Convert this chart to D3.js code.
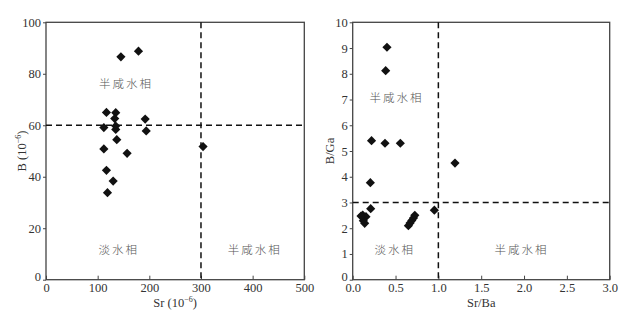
<!DOCTYPE html>
<html lang="zh">
<head>
<meta charset="UTF-8">
<title>Sr-B, Sr/Ba-B/Ga</title>
<script src="https://d3js.org/d3.v7.min.js"></script>
<style>
  body { margin: 0; background: #fff; }
  .zh { font-family: "Noto Sans CJK SC", sans-serif; font-weight: 300; letter-spacing: 2px; }
</style>
</head>
<body>
<svg id="chart" width="632" height="314"></svg>
<script>
// left panel: Sr (10^-6) vs B (10^-6)
const srValues = [145, 179, 117, 135, 133, 192, 112, 135, 135, 194, 137, 112, 157, 304, 117, 130, 119];
const bValues  = [86.6, 88.8, 65.0, 64.9, 62.6, 62.4, 59.1, 59.7, 58.4, 57.8, 54.4, 50.8, 49.1, 51.7, 42.5, 38.3, 33.8];
const leftXTicks = [0, 100, 200, 300, 400, 500];
const leftYTicks = [0, 20, 40, 60, 80, 100];
const leftLabels = [
  { text: "半咸水相", x: 153, y: 76.5 },
  { text: "淡水相", x: 139, y: 12 },
  { text: "半咸水相", x: 402, y: 12 }
];

// right panel: Sr/Ba vs B/Ga
const srBaValues = [0.40, 0.385, 0.22, 0.377, 0.556, 1.194, 0.206, 0.21, 0.953,
                    0.117, 0.155, 0.124, 0.14, 0.097,
                    0.65, 0.67, 0.69, 0.71, 0.725];
const bGaValues  = [9.03, 8.12, 5.40, 5.30, 5.30, 4.53, 3.77, 2.76, 2.70,
                    2.51, 2.45, 2.29, 2.19, 2.47,
                    2.10, 2.20, 2.30, 2.40, 2.50];
const rightXTicks = [0, 0.5, 1.0, 1.5, 2.0, 2.5, 3.0];
const rightYTicks = [0, 1, 2, 3, 4, 5, 6, 7, 8, 9, 10];
const rightLabels = [
  { text: "半咸水相", x: 0.50, y: 7.1 },
  { text: "淡水相", x: 0.48, y: 1.2 },
  { text: "半咸水相", x: 1.96, y: 1.2 }
];

const svg = d3.select("#chart");
const plotTop = 22.3, plotBottom = 279.7;
const serif = "Liberation Serif";

function panel(opt) {
  const g = svg.append("g");
  const x = d3.scaleLinear().domain(opt.xDomain).range([opt.left, opt.right]);
  const y = d3.scaleLinear().domain(opt.yDomain).range([plotBottom, plotTop]);

  // x axis, ticks pointing inward
  const xa = g.append("g")
    .attr("transform", `translate(0,${plotBottom})`)
    .call(d3.axisBottom(x).tickValues(opt.xTicks).tickSize(-4).tickPadding(3.5).tickFormat(opt.xFormat));
  // y axis, ticks pointing outward
  const ya = g.append("g")
    .attr("transform", `translate(${opt.left},0)`)
    .call(d3.axisLeft(y).tickValues(opt.yTicks).tickSize(3).tickPadding(2).tickFormat(d3.format("d")));
  [xa, ya].forEach(a => {
    a.attr("font-family", serif).attr("font-size", 12.5);
    a.select(".domain").remove();
    a.selectAll("line").attr("stroke", "#444");
    a.selectAll("text").attr("fill", "#333");
  });
  // the zero on the y axis sits a little high, as in the source figure
  ya.selectAll(".tick text").filter(d => d === 0).attr("dy", "0.1em");

  // frame
  g.append("rect")
    .attr("x", opt.left).attr("y", plotTop)
    .attr("width", opt.right - opt.left).attr("height", plotBottom - plotTop)
    .attr("fill", "none").attr("stroke", "#444").attr("stroke-width", 1.3);

  // dashed divisions
  g.append("line")
    .attr("x1", x(opt.xCut)).attr("x2", x(opt.xCut))
    .attr("y1", plotTop).attr("y2", plotBottom)
    .attr("stroke", "#111").attr("stroke-width", 1.5).attr("stroke-dasharray", "6,4");
  g.append("line")
    .attr("x1", opt.left).attr("x2", opt.right)
    .attr("y1", y(opt.yCut)).attr("y2", y(opt.yCut))
    .attr("stroke", "#111").attr("stroke-width", 1.5).attr("stroke-dasharray", "6,4");

  // region labels
  g.selectAll(".zh").data(opt.labels).enter().append("text")
    .attr("class", "zh")
    .attr("x", d => x(d.x) + 1).attr("y", d => y(d.y))
    .attr("text-anchor", "middle").attr("dominant-baseline", "central")
    .attr("font-size", 11.5).attr("fill", "#555")
    .text(d => d.text);

  // points
  const sym = d3.symbol().type(d3.symbolSquare).size(42);
  g.selectAll(".pt").data(opt.xs).enter().append("path")
    .attr("class", "pt")
    .attr("d", sym)
    .attr("transform", (d, i) => `translate(${x(d)},${y(opt.ys[i])}) rotate(45)`)
    .attr("fill", "#111");

  // axis titles
  const cx = (opt.left + opt.right) / 2;
  const xt = g.append("text").attr("x", cx).attr("y", 307)
    .attr("text-anchor", "middle").attr("font-size", 12.5)
    .attr("font-family", serif).attr("fill", "#333");
  xt.append("tspan").text(opt.xTitle);
  if (opt.unit) {
    xt.append("tspan").text(" (10");
    xt.append("tspan").attr("font-size", 8).attr("dy", -5).text("−6");
    xt.append("tspan").attr("dy", 5).text(")");
  }
  const yt = g.append("text")
    .attr("transform", `translate(${opt.yTitleX},${(plotTop + plotBottom) / 2}) rotate(-90)`)
    .attr("text-anchor", "middle").attr("font-size", 12.5)
    .attr("font-family", serif).attr("fill", "#333");
  yt.append("tspan").text(opt.yTitle);
  if (opt.unit) {
    yt.append("tspan").text(" (10");
    yt.append("tspan").attr("font-size", 8).attr("dy", -5).text("−6");
    yt.append("tspan").attr("dy", 5).text(")");
  }
}

panel({
  left: 46, right: 304.3,
  xDomain: [0, 500], yDomain: [0, 100],
  xTicks: leftXTicks, yTicks: leftYTicks,
  xFormat: d3.format("d"),
  xCut: 300, yCut: 60,
  xs: srValues, ys: bValues,
  labels: leftLabels,
  xTitle: "Sr", yTitle: "B", unit: true, yTitleX: 26
});

panel({
  left: 352.7, right: 609.7,
  xDomain: [0, 3], yDomain: [0, 10],
  xTicks: rightXTicks, yTicks: rightYTicks,
  xFormat: d3.format(".1f"),
  xCut: 1.0, yCut: 3,
  xs: srBaValues, ys: bGaValues,
  labels: rightLabels,
  xTitle: "Sr/Ba", yTitle: "B/Ga", unit: false, yTitleX: 334
});
</script>
</body>
</html>
